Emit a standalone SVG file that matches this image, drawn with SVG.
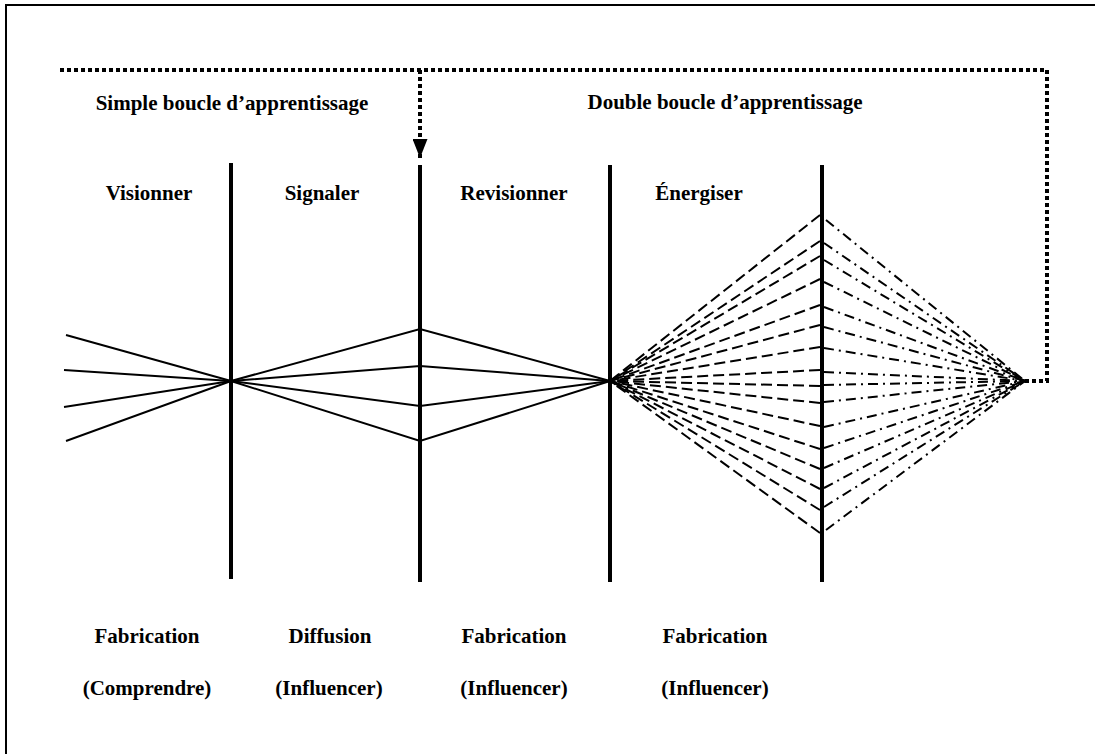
<svg xmlns="http://www.w3.org/2000/svg" width="1095" height="754" viewBox="0 0 1095 754">
  <style>
    .lbl { font-family: "Liberation Serif", "Times New Roman", serif; font-weight: bold; font-size: 21px; fill: #000; text-anchor: middle; }
    .bar { stroke: #000; stroke-width: 4; fill: none; }
    .solid { stroke: #000; stroke-width: 2; fill: none; }
    .dash { stroke: #000; stroke-width: 2; fill: none; stroke-dasharray: 11 5; }
    .dashdot { stroke: #000; stroke-width: 2; fill: none; stroke-dasharray: 10 5 2 5; }
    .loop { stroke: #000; stroke-width: 4; fill: none; stroke-dasharray: 4 3; }
  </style>
  <defs>
    <!-- arrowhead drawn along +x so orient="auto" follows the path -->
    <marker id="arrow" viewBox="0 0 19 15" refX="19" refY="7.5" markerWidth="19" markerHeight="15" markerUnits="userSpaceOnUse" orient="auto">
      <path d="M0,0 L19,7.5 L0,15 Z" fill="#000"/>
    </marker>
  </defs>

  <rect width="1095" height="754" fill="#fff"/>
  <!-- frame: left and top edges -->
  <path d="M6,754 V5 H1095" stroke="#000" stroke-width="2" fill="none"/>

  <!-- loop titles -->
  <g id="simple-loop-title"><text class="lbl" x="232" y="110">Simple boucle d’apprentissage</text></g>
  <g id="double-loop-title"><text class="lbl" x="725" y="109">Double boucle d’apprentissage</text></g>

  <!-- phase dividers -->
  <g id="dividers">
    <line class="bar" x1="231" y1="163" x2="231" y2="579"/>
    <line class="bar" x1="420" y1="165" x2="420" y2="582"/>
    <line class="bar" x1="610" y1="165" x2="610" y2="582"/>
    <line class="bar" x1="822" y1="165" x2="822" y2="582"/>
  </g>

  <!-- phase headers -->
  <g id="visionner"><text class="lbl" x="149" y="200">Visionner</text></g>
  <g id="signaler"><text class="lbl" x="322" y="200">Signaler</text></g>
  <g id="revisionner"><text class="lbl" x="514" y="200">Revisionner</text></g>
  <g id="energiser"><text class="lbl" x="699" y="200">Énergiser</text></g>

  <!-- phase footers -->
  <g id="fabrication-1">
    <text class="lbl" x="147" y="643">Fabrication</text>
    <text class="lbl" x="147" y="695">(Comprendre)</text>
  </g>
  <g id="diffusion">
    <text class="lbl" x="330" y="643">Diffusion</text>
    <text class="lbl" x="329" y="695">(Influencer)</text>
  </g>
  <g id="fabrication-2">
    <text class="lbl" x="514" y="643">Fabrication</text>
    <text class="lbl" x="514" y="695">(Influencer)</text>
  </g>
  <g id="fabrication-3">
    <text class="lbl" x="715" y="643">Fabrication</text>
    <text class="lbl" x="715" y="695">(Influencer)</text>
  </g>

  <g id="connectors">
    <!-- converging into first divider -->
    <g class="solid">
      <line x1="66" y1="335" x2="231" y2="381"/>
      <line x1="64" y1="370" x2="231" y2="381"/>
      <line x1="64" y1="407" x2="231" y2="381"/>
      <line x1="66" y1="441" x2="231" y2="381"/>
      <!-- fanning out to second divider and back -->
      <polyline points="231,381 420,329 610,381"/>
      <polyline points="231,381 420,366 610,381"/>
      <polyline points="231,381 420,406 610,381"/>
      <polyline points="231,381 420,441 610,381"/>
    </g>

    <!-- dashed fan from third divider to fourth (drawn from the fourth divider inward) -->
    <g class="dash">
      <line x1="820" y1="215" x2="610" y2="381"/>
      <line x1="820" y1="241" x2="610" y2="381"/>
      <line x1="820" y1="256" x2="610" y2="381"/>
      <line x1="820" y1="279" x2="610" y2="381"/>
      <line x1="820" y1="305" x2="610" y2="381"/>
      <line x1="820" y1="325" x2="610" y2="381"/>
      <line x1="820" y1="347" x2="610" y2="381"/>
      <line x1="820" y1="370" x2="610" y2="381"/>
      <line x1="820" y1="386" x2="610" y2="381"/>
      <line x1="820" y1="403" x2="610" y2="381"/>
      <line x1="820" y1="426" x2="610" y2="381"/>
      <line x1="820" y1="449" x2="610" y2="381"/>
      <line x1="820" y1="469" x2="610" y2="381"/>
      <line x1="820" y1="489" x2="610" y2="381"/>
      <line x1="820" y1="510" x2="610" y2="381"/>
      <line x1="820" y1="533" x2="610" y2="381"/>
    </g>

    <!-- dash-dot fan converging to the right -->
    <g class="dashdot">
      <line x1="826" y1="220" x2="1025" y2="381"/>
      <line x1="824" y1="243" x2="1025" y2="381"/>
      <line x1="824" y1="260" x2="1025" y2="381"/>
      <line x1="824" y1="282" x2="1025" y2="381"/>
      <line x1="824" y1="307" x2="1025" y2="381"/>
      <line x1="824" y1="327" x2="1025" y2="381"/>
      <line x1="824" y1="348" x2="1025" y2="381"/>
      <line x1="824" y1="372" x2="1025" y2="381"/>
      <line x1="824" y1="385" x2="1025" y2="381"/>
      <line x1="824" y1="402" x2="1025" y2="381"/>
      <line x1="824" y1="427" x2="1025" y2="381"/>
      <line x1="824" y1="448" x2="1025" y2="381"/>
      <line x1="824" y1="468" x2="1025" y2="381"/>
      <line x1="824" y1="488" x2="1025" y2="381"/>
      <line x1="824" y1="507" x2="1025" y2="381"/>
      <line x1="826" y1="530" x2="1025" y2="381"/>
    </g>

    <!-- feedback loops -->
    <path class="loop" d="M1025,381 H1047 V70 H58"/>
    <path class="loop" d="M420,70 V158" marker-end="url(#arrow)"/>
  </g>
</svg>
